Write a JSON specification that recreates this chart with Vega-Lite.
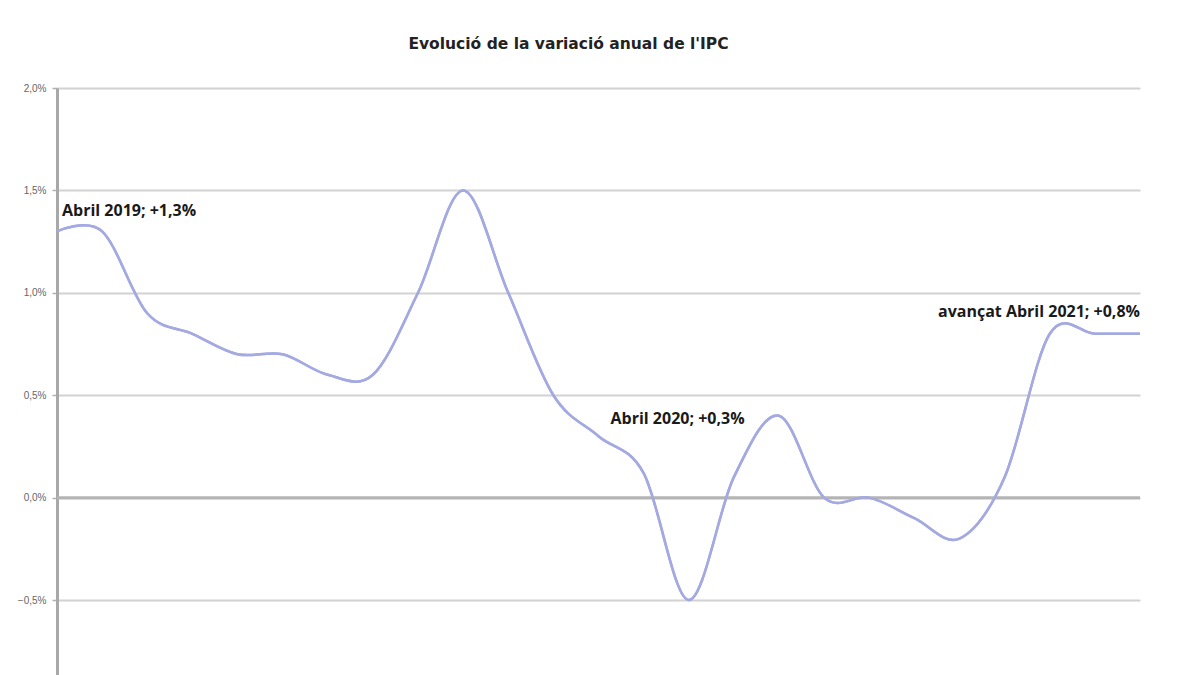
{
  "$schema": "https://vega.github.io/schema/vega-lite/v6.json",
  "autosize": "none",
  "width": 1083,
  "height": 587,
  "padding": {"left": 57, "top": 88, "right": 60, "bottom": 0},
  "background": "white",
  "view": {"stroke": null},
  "title": {
    "text": "Evolució de la variació anual de l'IPC",
    "font": "DejaVu Sans",
    "fontSize": 15.5,
    "fontWeight": "bold",
    "color": "#222",
    "anchor": "middle",
    "dx": -30,
    "offset": 31
  },
  "datasets": {
    "ipc": [
      {"mes": "2019-04", "ipc": 1.3},
      {"mes": "2019-05", "ipc": 1.3},
      {"mes": "2019-06", "ipc": 0.9},
      {"mes": "2019-07", "ipc": 0.8},
      {"mes": "2019-08", "ipc": 0.7},
      {"mes": "2019-09", "ipc": 0.7},
      {"mes": "2019-10", "ipc": 0.6},
      {"mes": "2019-11", "ipc": 0.6},
      {"mes": "2019-12", "ipc": 1.0},
      {"mes": "2020-01", "ipc": 1.5},
      {"mes": "2020-02", "ipc": 1.0},
      {"mes": "2020-03", "ipc": 0.5},
      {"mes": "2020-04", "ipc": 0.3},
      {"mes": "2020-05", "ipc": 0.12},
      {"mes": "2020-06", "ipc": -0.5},
      {"mes": "2020-07", "ipc": 0.1},
      {"mes": "2020-08", "ipc": 0.4},
      {"mes": "2020-09", "ipc": 0.0},
      {"mes": "2020-10", "ipc": 0.0},
      {"mes": "2020-11", "ipc": -0.1},
      {"mes": "2020-12", "ipc": -0.2},
      {"mes": "2021-01", "ipc": 0.1},
      {"mes": "2021-02", "ipc": 0.8},
      {"mes": "2021-03", "ipc": 0.8},
      {"mes": "2021-04", "ipc": 0.8}
    ],
    "notes": [
      {"mes": "2019-04", "pos": 1.4, "text": "Abril 2019; +1,3%", "side": "a"},
      {"mes": "2020-04", "pos": 0.386, "text": "Abril 2020;  +0,3%", "side": "b"},
      {"mes": "2021-04", "pos": 0.906, "text": "avançat Abril 2021; +0,8%", "side": "c"}
    ]
  },
  "encoding": {
    "x": {
      "field": "mes",
      "type": "ordinal",
      "scale": {"type": "point", "padding": 0},
      "axis": null
    },
    "y": {
      "type": "quantitative",
      "scale": {"domain": [-0.866, 2.0], "nice": false, "zero": false}
    }
  },
  "layer": [
    {
      "data": {"name": "ipc"},
      "mark": {"type": "line", "color": "#a4a9e2", "strokeWidth": 2.5, "interpolate": "cardinal"},
      "encoding": {
        "y": {
          "field": "ipc",
          "type": "quantitative",
          "scale": {"domain": [-0.866, 2.0], "nice": false, "zero": false},
          "axis": {
            "title": null,
            "values": [-0.5, 0, 0.5, 1, 1.5, 2],
            "labelExpr": "replace(format(datum.value, '.1f'), '.', ',') + '%'",
            "labelFont": "Liberation Sans",
            "labelFontSize": 10,
            "labelColor": "#666",
            "labelPadding": 6,
            "domainColor": "#a8a8a8",
            "domainWidth": 3,
            "tickColor": "#b0b0b0",
            "tickSize": 5,
            "tickWidth": 1.5,
            "grid": true,
            "gridColor": "#d2d2d2",
            "gridWidth": 2,
            "zindex": 0
          }
        }
      }
    },
    {
      "data": {"values": [{"zero": 0}]},
      "mark": {"type": "rule", "color": "#b4b4b4", "strokeWidth": 3},
      "encoding": {
        "x": null,
        "y": {"field": "zero", "type": "quantitative"}
      }
    },
    {
      "data": {"name": "ipc"},
      "mark": {"type": "line", "color": "#a4a9e2", "strokeWidth": 2.5, "interpolate": "cardinal"},
      "encoding": {"y": {"field": "ipc", "type": "quantitative"}}
    },
    {
      "data": {"name": "notes"},
      "transform": [{"filter": "datum.side == 'a'"}],
      "mark": {"type": "text", "align": "left", "baseline": "middle", "dx": 5, "font": "Open Sans", "fontSize": 16, "fontWeight": "bold", "color": "#1a1a1a"},
      "encoding": {"y": {"field": "pos", "type": "quantitative"}, "text": {"field": "text"}}
    },
    {
      "data": {"name": "notes"},
      "transform": [{"filter": "datum.side == 'b'"}],
      "mark": {"type": "text", "align": "left", "baseline": "middle", "dx": 12, "font": "Open Sans", "fontSize": 16, "fontWeight": "bold", "color": "#1a1a1a"},
      "encoding": {"y": {"field": "pos", "type": "quantitative"}, "text": {"field": "text"}}
    },
    {
      "data": {"name": "notes"},
      "transform": [{"filter": "datum.side == 'c'"}],
      "mark": {"type": "text", "align": "right", "baseline": "middle", "dx": 0, "font": "Open Sans", "fontSize": 16, "fontWeight": "bold", "color": "#1a1a1a"},
      "encoding": {"y": {"field": "pos", "type": "quantitative"}, "text": {"field": "text"}}
    }
  ]
}
